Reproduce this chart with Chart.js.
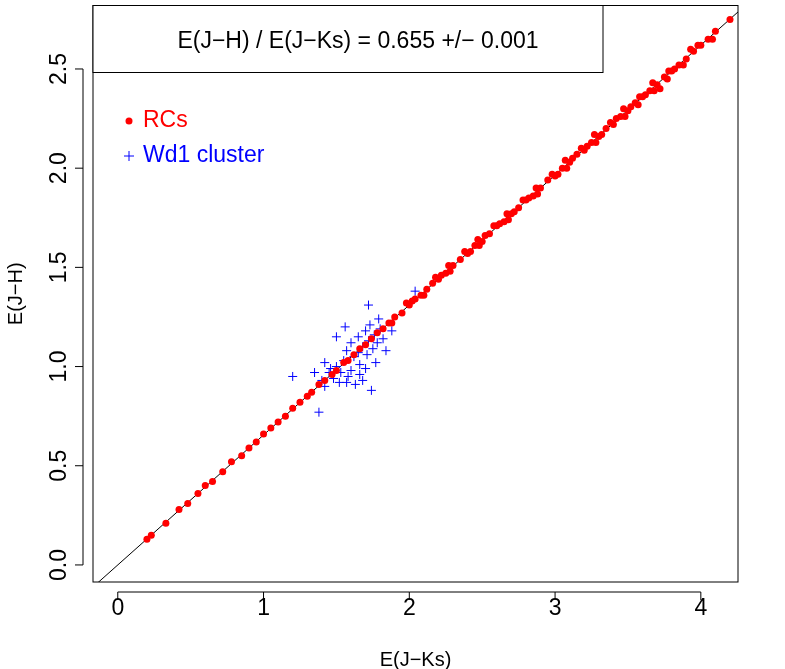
<!DOCTYPE html>
<html>
<head>
<meta charset="utf-8">
<script src="https://cdn.jsdelivr.net/npm/chart.js@4"></script>
<style>body{margin:0;background:#fff}</style>
</head>
<body>
<canvas id="c" width="785" height="669"></canvas>
<script>
const xTicks = [0, 1, 2, 3, 4];
const yTicks = [0, 0.5, 1, 1.5, 2, 2.5];
const yTickLabels = ['0.0', '0.5', '1.0', '1.5', '2.0', '2.5'];
const slope = 0.655;
const fitX = [-0.2, 4.3];
const fitY = [-0.131, 2.817];

const rcX = [0.20,0.23,0.33,0.42,0.48,0.55,0.60,0.65,0.72,0.78,0.85,0.90,0.95,1.00,1.05,1.10,1.15,1.20,1.25,1.30,1.33,1.38,1.42,1.47,1.50,1.55,1.58,1.62,1.66,1.70,1.74,1.78,1.82,1.86,1.90,1.95,2.00,2.04,2.08,2.12,2.16,2.20,2.25,2.30,2.35,2.40,2.45,2.50,2.55,2.60,2.65,2.70,2.75,2.80,2.85,2.90,2.95,3.00,3.05,3.10,3.15,3.20,3.25,3.30,3.35,3.40,3.45,3.50,3.55,3.60,3.65,3.70,3.75,3.80,3.85,3.90,3.95,4.00,4.05,4.10,4.20,
  2.02,2.22,2.42,2.62,2.82,3.02,3.22,3.42,3.62,3.82,3.12,3.32,3.52,2.72,2.52,
  1.88,1.98,2.10,2.18,2.28,2.38,2.48,2.58,2.68,2.78,2.88,2.98,3.08,3.18,3.28,3.38,3.48,3.58,3.68,3.78,3.88,3.98,4.08,3.47,3.57,3.67,3.77,3.27,3.07,2.87,2.67,2.47,2.27,3.93,3.72];
const rcY = [0.13,0.15,0.21,0.28,0.31,0.36,0.40,0.42,0.47,0.52,0.55,0.59,0.62,0.66,0.69,0.72,0.75,0.79,0.82,0.85,0.87,0.91,0.93,0.96,0.98,1.02,1.03,1.06,1.09,1.11,1.14,1.17,1.19,1.22,1.25,1.27,1.31,1.34,1.36,1.39,1.42,1.44,1.47,1.51,1.54,1.57,1.61,1.63,1.67,1.71,1.73,1.77,1.80,1.84,1.86,1.90,1.94,1.96,2.00,2.03,2.07,2.09,2.13,2.16,2.20,2.22,2.26,2.29,2.33,2.36,2.39,2.42,2.46,2.49,2.52,2.55,2.59,2.62,2.65,2.69,2.75,
  1.33,1.46,1.58,1.72,1.85,1.97,2.11,2.25,2.37,2.50,2.05,2.17,2.31,1.78,1.66,
  1.22,1.32,1.36,1.45,1.48,1.58,1.61,1.71,1.74,1.84,1.87,1.97,2.00,2.10,2.13,2.23,2.26,2.36,2.39,2.49,2.52,2.62,2.65,2.30,2.32,2.43,2.45,2.17,2.04,1.90,1.77,1.64,1.51,2.60,2.40];

const wdX = [1.20,1.38,1.40,1.42,1.45,1.48,1.50,1.52,1.55,1.57,1.58,1.60,1.60,1.62,1.63,1.65,1.65,1.66,1.68,1.70,1.70,1.71,1.72,1.73,1.74,1.75,1.76,1.77,1.78,1.79,1.80,1.82,1.84,1.56,1.50,1.46,1.42,1.35,1.66,1.72,1.68,1.53,1.88,2.04,1.57];
const wdY = [0.95,0.77,0.93,0.90,0.97,0.94,1.00,0.92,1.03,1.08,0.95,1.12,0.98,1.05,0.91,1.15,1.07,1.01,1.10,1.18,0.99,1.06,1.13,1.21,0.88,1.09,1.16,1.02,1.12,1.24,1.19,1.14,1.08,1.20,1.15,0.99,1.02,0.97,0.96,1.31,0.93,0.97,1.18,1.38,0.92];

const pts = (xs, ys) => xs.map((x, i) => ({x: x, y: ys[i]}));
const FONT = '"Liberation Sans", Arial, sans-serif';

const decor = {
  id: 'decor',
  afterDraw(chart) {
    const c = chart.ctx, a = chart.chartArea;
    const xs = chart.scales.x, ys = chart.scales.y;
    c.save();
    c.strokeStyle = '#000'; c.lineWidth = 1;
    c.strokeRect(a.left, a.top, a.right - a.left, a.bottom - a.top);
    c.fillStyle = '#000';
    c.font = '23px ' + FONT;
    // x ticks
    c.textAlign = 'center'; c.textBaseline = 'top';
    c.beginPath();
    c.moveTo(xs.getPixelForValue(xTicks[0]), a.bottom + 10);
    c.lineTo(xs.getPixelForValue(xTicks[xTicks.length - 1]), a.bottom + 10);
    xTicks.forEach(t => {
      const px = xs.getPixelForValue(t);
      c.moveTo(px, a.bottom + 10); c.lineTo(px, a.bottom + 18);
      c.fillText(String(t), px, a.bottom + 15);
    });
    c.stroke();
    // y ticks
    c.beginPath();
    c.moveTo(a.left - 10, ys.getPixelForValue(yTicks[0]));
    c.lineTo(a.left - 10, ys.getPixelForValue(yTicks[yTicks.length - 1]));
    yTicks.forEach((t, i) => {
      const py = ys.getPixelForValue(t);
      c.moveTo(a.left - 10, py); c.lineTo(a.left - 18, py);
      c.save();
      c.translate(a.left - 22, py); c.rotate(-Math.PI / 2);
      c.textAlign = 'center'; c.textBaseline = 'bottom';
      c.fillText(yTickLabels[i], 0, 0);
      c.restore();
    });
    c.stroke();
    // axis titles
    c.font = '20px ' + FONT;
    c.textAlign = 'center'; c.textBaseline = 'middle';
    c.fillText('E(J\u2212Ks)', (a.left + a.right) / 2, 660);
    c.save(); c.translate(16, (a.top + a.bottom) / 2); c.rotate(-Math.PI / 2);
    c.fillText('E(J\u2212H)', 0, 0); c.restore();
    // result box
    c.fillStyle = '#fff';
    c.fillRect(a.left, a.top, 510, 67);
    c.strokeRect(a.left, a.top, 510, 67);
    c.fillStyle = '#000';
    c.font = '23px ' + FONT;
    c.fillText('E(J\u2212H) / E(J\u2212Ks) = ' + slope.toFixed(3) + ' +/\u2212 0.001', a.left + 265, a.top + 36);
    // legend
    c.textAlign = 'left';
    c.fillStyle = 'red';
    c.beginPath(); c.arc(129, 121, 3.5, 0, 2 * Math.PI); c.fill();
    c.fillText('RCs', 143, 121);
    c.strokeStyle = 'blue'; c.fillStyle = 'blue';
    c.beginPath(); c.moveTo(124, 156); c.lineTo(134, 156); c.moveTo(129, 151); c.lineTo(129, 161); c.stroke();
    c.fillText('Wd1 cluster', 143, 156);
    c.restore();
  }
};

new Chart(document.getElementById('c'), {
  type: 'scatter',
  data: {
    datasets: [
      {label: 'RCs', data: pts(rcX, rcY), backgroundColor: 'red', borderColor: 'red', pointRadius: 3.5, borderWidth: 0},
      {label: 'Wd1 cluster', data: pts(wdX, wdY), pointStyle: 'cross', borderColor: 'blue', pointRadius: 4.5, borderWidth: 1},
      {label: 'fit', data: pts(fitX, fitY), showLine: true, borderColor: '#000', borderWidth: 1, pointRadius: 0}
    ]
  },
  options: {
    responsive: false,
    animation: false,
    layout: {padding: {left: 93, top: 5, right: 47, bottom: 87}},
    plugins: {legend: {display: false}, tooltip: {enabled: false}},
    clip: {left: 0, top: 0, right: 0, bottom: 0},
    scales: {
      x: {type: 'linear', display: false, min: -0.17, max: 4.255},
      y: {type: 'linear', display: false, min: -0.086, max: 2.82}
    }
  },
  plugins: [decor]
});
</script>
</body>
</html>
